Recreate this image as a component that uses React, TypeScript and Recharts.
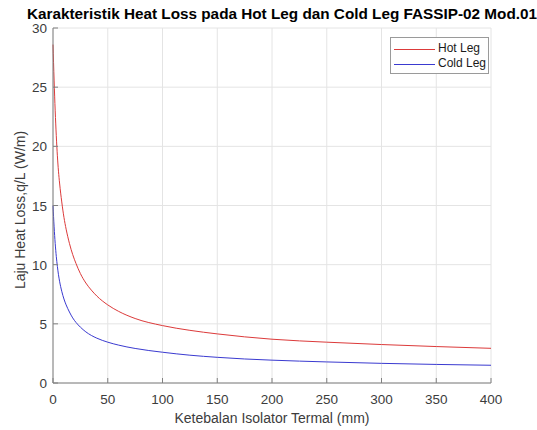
import React from 'react';
import { LineChart, Line, XAxis, YAxis, CartesianGrid } from 'recharts';

// tebal isolator (mm)
const thickness = [0, 1, 2, 3, 4, 5, 6, 8, 10, 12, 15, 18, 21, 25, 30, 35, 40, 50, 60, 75, 100, 125, 150, 175, 200, 250, 300, 350, 400];
// heat loss hot leg (W/m)
const hotLeg = [28.6, 25.6, 23.0, 20.9, 19.2, 17.9, 16.9, 15.3, 14.0, 13.0, 11.8, 10.85, 10.1, 9.25, 8.45, 7.85, 7.35, 6.6, 6.05, 5.45, 4.85, 4.45, 4.15, 3.9, 3.7, 3.45, 3.25, 3.08, 2.93];
// heat loss cold leg (W/m)
const coldLeg = [15.0, 13.2, 11.8, 10.7, 9.85, 9.15, 8.6, 7.75, 7.1, 6.6, 6.0, 5.5, 5.12, 4.72, 4.32, 4.02, 3.79, 3.45, 3.2, 2.92, 2.6, 2.35, 2.17, 2.03, 1.93, 1.78, 1.66, 1.57, 1.5];

const xTicks = [0, 50, 100, 150, 200, 250, 300, 350, 400];
const yTicks = [0, 5, 10, 15, 20, 25, 30];

const AXIS = '#808080';
const LABEL = '#3c3c3c';
const FONT = '"Liberation Sans", Arial, Helvetica, sans-serif';
const HOT = '#dc3a3a';
const COLD = '#3a3ad0';

const rows = thickness.map((t, i) => ({ x: t, hot: hotLeg[i], cold: coldLeg[i] }));

const BottomTick = (props: any) => {
  const { x, y, payload } = props;
  return (
    <g>
      <line x1={x} y1={y} x2={x} y2={y - 5} stroke={AXIS} />
      <text x={x} y={y + 21} textAnchor="middle" fontSize={13.5} fill={LABEL} fontFamily={FONT}>
        {payload.value}
      </text>
    </g>
  );
};

const TopTick = (props: any) => {
  const { x, y } = props;
  return <line x1={x} y1={y} x2={x} y2={y + 5} stroke={AXIS} />;
};

const LeftTick = (props: any) => {
  const { x, y, payload } = props;
  return (
    <g>
      <line x1={x} y1={y} x2={x + 5} y2={y} stroke={AXIS} />
      <text x={x - 6} y={y + 5} textAnchor="end" fontSize={13.5} fill={LABEL} fontFamily={FONT}>
        {payload.value}
      </text>
    </g>
  );
};

const RightTick = (props: any) => {
  const { x, y } = props;
  return <line x1={x} y1={y} x2={x - 5} y2={y} stroke={AXIS} />;
};

const App = () => {
  return (
    <div style={{ position: 'absolute', left: 0, top: 0, width: 537, height: 430, background: '#fff', fontFamily: FONT }}>
      <LineChart width={537} height={430} data={rows} margin={{ top: 28, right: 46, bottom: 0, left: 0 }}>
        <CartesianGrid stroke="#e4e4e4" />
        <XAxis dataKey="x" type="number" domain={[0, 400]} ticks={xTicks} interval={0} height={47}
          tickSize={0} tickMargin={0} tickLine={false} axisLine={{ stroke: AXIS }} tick={<BottomTick />} />
        <XAxis xAxisId="top" orientation="top" dataKey="x" type="number" domain={[0, 400]} ticks={xTicks} interval={0} height={0}
          tickSize={0} tickMargin={0} tickLine={false} axisLine={{ stroke: AXIS }} tick={<TopTick />} />
        <YAxis type="number" domain={[0, 30]} ticks={yTicks} interval={0} width={53}
          tickSize={0} tickMargin={0} tickLine={false} axisLine={{ stroke: AXIS }} tick={<LeftTick />} />
        <YAxis yAxisId="right" orientation="right" type="number" domain={[0, 30]} ticks={yTicks} interval={0} width={0}
          tickSize={0} tickMargin={0} tickLine={false} axisLine={{ stroke: AXIS }} tick={<RightTick />} />
        <Line type="monotone" dataKey="hot" stroke={HOT} strokeWidth={1} dot={false} isAnimationActive={false} />
        <Line type="monotone" dataKey="cold" stroke={COLD} strokeWidth={1} dot={false} isAnimationActive={false} />
      </LineChart>

      <div style={{ position: 'absolute', left: 0, width: 564, top: 5, textAlign: 'center', fontSize: 15.3, fontWeight: 'bold', color: '#000', whiteSpace: 'nowrap' }}>
        Karakteristik Heat Loss pada Hot Leg dan Cold Leg FASSIP-02 Mod.01
      </div>

      <div style={{ position: 'absolute', left: 53, width: 438, top: 410, textAlign: 'center', fontSize: 14, color: LABEL, whiteSpace: 'nowrap' }}>
        Ketebalan Isolator Termal (mm)
      </div>

      <div style={{ position: 'absolute', left: 20, top: 210, width: 0, height: 0 }}>
        <div style={{ position: 'absolute', transform: 'translate(-50%, -50%) rotate(-90deg)', fontSize: 14, color: LABEL, whiteSpace: 'nowrap' }}>
          Laju Heat Loss,q/L (W/m)
        </div>
      </div>

      <div style={{ position: 'absolute', left: 390, top: 37, width: 97, height: 35, border: '1px solid #9a9a9a', background: '#fff', fontSize: 12, color: '#1a1a1a' }}>
        <div style={{ position: 'absolute', left: 3, top: 11, width: 41, borderTop: `1px solid ${HOT}` }} />
        <div style={{ position: 'absolute', left: 47, top: 3, whiteSpace: 'nowrap' }}>Hot Leg</div>
        <div style={{ position: 'absolute', left: 3, top: 26, width: 41, borderTop: `1px solid ${COLD}` }} />
        <div style={{ position: 'absolute', left: 47, top: 18, whiteSpace: 'nowrap' }}>Cold Leg</div>
      </div>
    </div>
  );
};

export default App;
